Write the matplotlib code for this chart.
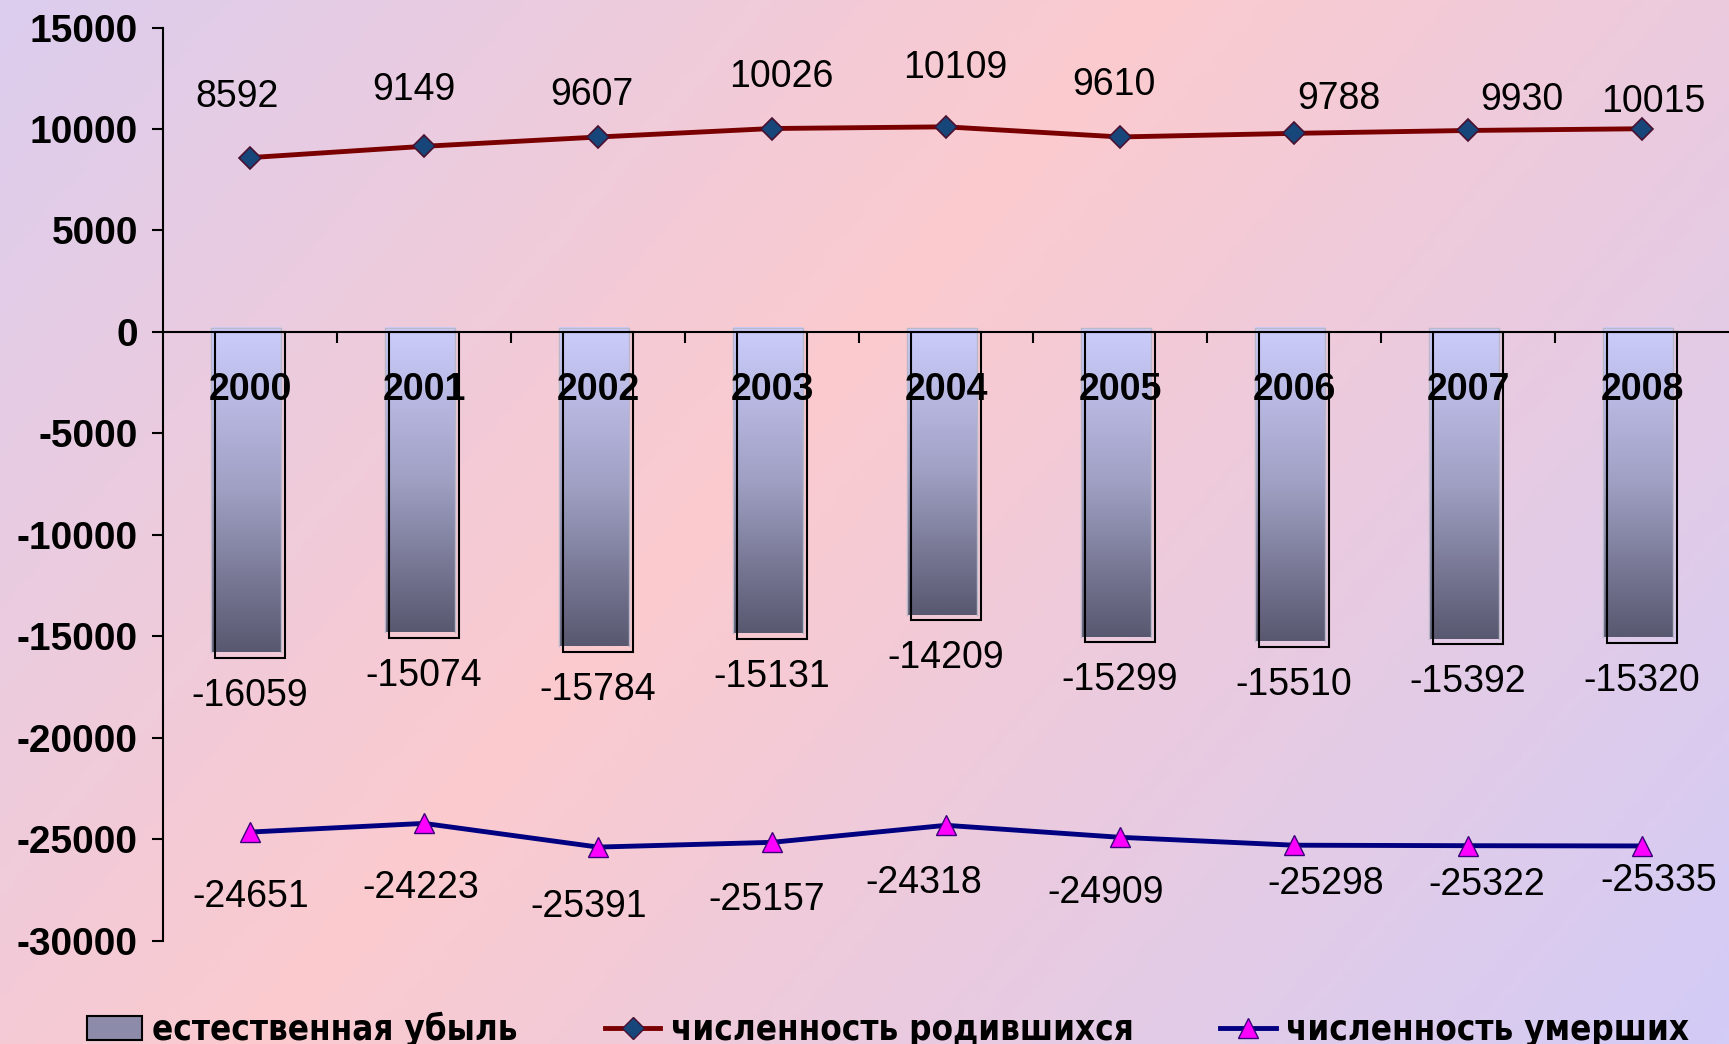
import numpy as np
import matplotlib
matplotlib.use("Agg")
import matplotlib.pyplot as plt
from matplotlib import font_manager
from matplotlib.patches import Patch
from matplotlib.lines import Line2D
from matplotlib.colors import LinearSegmentedColormap

plt.rcParams['font.family'] = ['Liberation Sans', 'DejaVu Sans']

# data
years = ['2000', '2001', '2002', '2003', '2004', '2005', '2006', '2007', '2008']
births = [8592, 9149, 9607, 10026, 10109, 9610, 9788, 9930, 10015]
deaths = [-24651, -24223, -25391, -25157, -24318, -24909, -25298, -25322, -25335]
loss = [-16059, -15074, -15784, -15131, -14209, -15299, -15510, -15392, -15320]
legend_labels = ['естественная убыль', 'численность родившихся', 'численность умерших']

# label offsets in pixels (dx, dy)
births_off = [(-13, 61), (-10, 56), (-6, 42), (9, 52), (9, 59), (-6, 52), (45, 34), (54, 30), (11, 27)]
deaths_off = [(1, -65), (-3, -65), (-9, -60), (-5, -58), (-22, -58), (-14, -56), (32, -39), (19, -39), (17, -35)]

x = np.arange(len(years))

W, H = 1729, 1044
fig = plt.figure(figsize=(W/100, H/100), dpi=100)

# diagonal background gradient: lavender -> pink -> lavender
bg = fig.add_axes([0, 0, 1, 1], zorder=-10)
bg.axis('off')
gx, gy = np.meshgrid(np.linspace(0, W, 300), np.linspace(0, H, 200))
t = (gx*1044 + gy*900) / (W*1044 + H*900)
bg_cmap = LinearSegmentedColormap.from_list('bg', [(0, '#DCCDEE'), (0.44, '#FBCACF'), (1, '#D3CCF6')])
bg.imshow(t, cmap=bg_cmap, aspect='auto', extent=[0, 1, 0, 1], origin='upper', vmin=0, vmax=1)
bg.set_xlim(0, 1)
bg.set_ylim(0, 1)

ax = fig.add_axes([163/W, 103.4/H, 1 - 163/W, 913/H])
ax.set_facecolor('none')

# bars: gradient fill slightly shifted, black outline at true position
bar_w = 0.4
bar_cmap = LinearSegmentedColormap.from_list('bar', ['#CDCDFD', '#A0A0C4', '#585870'])
grad = np.linspace(0, 1, 256).reshape(-1, 1)
for i, v in enumerate(loss):
    ax.imshow(grad, cmap=bar_cmap, aspect='auto', origin='upper',
              extent=[i - bar_w/2 - 0.023, i + bar_w/2 - 0.023, v + 280, 200], zorder=2)
    ax.plot([i - bar_w/2 - 0.023, i - bar_w/2 - 0.023, i + bar_w/2 - 0.023, i + bar_w/2 - 0.023],
            [v + 280, 200, 200, v + 280], color='#B8B8C8', lw=1, zorder=2.1)
ax.bar(x, loss, width=bar_w, fill=False, edgecolor='black', linewidth=1.5, zorder=2.5)

# lines
ax.plot(x, births, color='#7A0000', lw=3.5, marker='D', markersize=11,
        markerfacecolor='#17477A', markeredgecolor='#4A1030', markeredgewidth=1.2, zorder=4)
ax.plot(x, deaths, color='#000080', lw=3.5, marker='^', markersize=14,
        markerfacecolor='#FF00FF', markeredgecolor='#3A007A', markeredgewidth=1.0, zorder=4)

ax.set_xlim(-0.5, 8.5)
ax.set_ylim(-30000, 15000)

# value labels
lab_kw = dict(textcoords='offset pixels', ha='center', va='center', fontsize=27,
              color='black', fontweight='medium')
for i, v in enumerate(births):
    ax.annotate(str(v), (x[i], v), xytext=births_off[i], **lab_kw)
for i, v in enumerate(deaths):
    ax.annotate(str(v), (x[i], v), xytext=deaths_off[i], **lab_kw)
for i, v in enumerate(loss):
    ax.annotate(str(v), (x[i], v), xytext=(0, -38), **lab_kw)

# year labels inside bars
for i, yr in enumerate(years):
    ax.text(x[i], -2850, yr, ha='center', va='center', fontsize=27,
            fontweight='bold', color='black', zorder=5)

# axes styling
for s in ['top', 'right']:
    ax.spines[s].set_visible(False)
ax.spines['bottom'].set_position(('data', 0))
ax.spines['bottom'].set_zorder(3)
ax.spines['left'].set_linewidth(1.5)
ax.spines['bottom'].set_linewidth(1.5)
ax.set_xticks(np.arange(0.5, 8.5, 1))
ax.set_xticklabels([])
ax.tick_params(axis='x', direction='out', length=8, width=1.5)
ax.set_yticks(np.arange(-30000, 15001, 5000))
ax.set_yticklabels([str(v) for v in range(-30000, 15001, 5000)], fontsize=28, fontweight='bold')
ax.tick_params(axis='y', direction='out', length=8, width=1.5, pad=10)

# legend: condensed bold text if a narrow face is installed, else smaller
names = {f.name for f in font_manager.fontManager.ttflist}
leg_prop = {'weight': 'bold'}
if 'Liberation Sans Narrow' in names:
    leg_prop.update(family=['Liberation Sans Narrow', 'DejaVu Sans'], size=27)
elif any(f.name == 'DejaVu Sans' and f.stretch == 'condensed' for f in font_manager.fontManager.ttflist):
    leg_prop.update(family=['DejaVu Sans'], stretch='condensed', size=25)
else:
    leg_prop.update(family=['Liberation Sans', 'DejaVu Sans'], size=24)

handles = [
    Patch(facecolor='#8C8CAA', edgecolor='black', linewidth=1.5),
    Line2D([0], [0], color='#7A0000', lw=3.5, marker='D', markersize=11,
           markerfacecolor='#17477A', markeredgecolor='#4A1030'),
    Line2D([0], [0], color='#000080', lw=3.5, marker='^', markersize=14,
           markerfacecolor='#FF00FF', markeredgecolor='#3A007A'),
]
fig.legend(handles, legend_labels, loc='center left', bbox_to_anchor=(0.04, 0.014), ncol=3,
           frameon=False, prop=leg_prop,
           handlelength=1.6, handletextpad=0.3, columnspacing=2.5, borderpad=0)

fig.savefig('out.png', dpi=100)
